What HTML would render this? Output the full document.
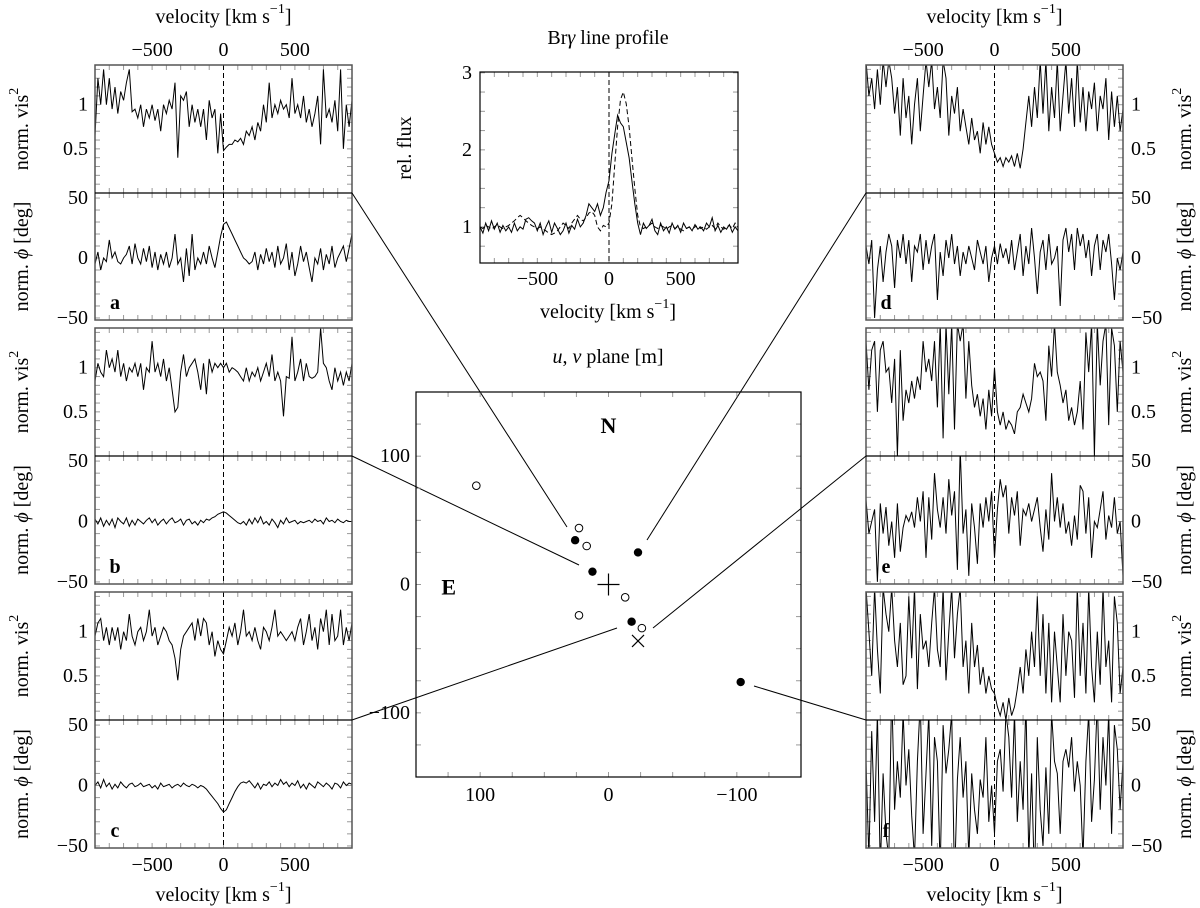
<!DOCTYPE html>
<html><head><meta charset="utf-8">
<style>
html,body{margin:0;padding:0;background:#fff;}
svg{display:block;}
svg text{font-family:"Liberation Serif","DejaVu Serif","Times New Roman",serif;fill:#000;}
</style></head>
<body>
<svg id="fig" width="1200" height="908" viewBox="0 0 1200 908" xmlns="http://www.w3.org/2000/svg"></svg>
<script>
// ---------- data ----------
const velocity = [-900,-880,-860,-840,-820,-800,-780,-760,-740,-720,-700,-680,-660,-640,-620,-600,-580,-560,-540,-520,-500,-480,-460,-440,-420,-400,-380,-360,-340,-320,-300,-280,-260,-240,-220,-200,-180,-160,-140,-120,-100,-80,-60,-40,-20,0,20,40,60,80,100,120,140,160,180,200,220,240,260,280,300,320,340,360,380,400,420,440,460,480,500,520,540,560,580,600,620,640,660,680,700,720,740,760,780,800,820,840,860,880,900];
const visA = [0.65,1.3,1.0,1.4,1.0,1.3,0.95,1.2,0.9,1.15,1.05,1.25,1.4,0.92,0.95,0.85,1.0,0.75,0.95,0.85,1.0,0.82,0.95,0.7,1.0,0.9,1.05,0.95,1.25,0.4,1.1,1.05,1.15,0.75,1.0,0.8,0.95,0.75,0.95,0.6,1.05,0.85,0.95,0.45,0.9,0.48,0.52,0.55,0.55,0.6,0.58,0.62,0.55,0.7,0.65,0.75,0.6,0.8,0.7,1.0,0.8,1.25,0.85,1.0,0.9,1.05,0.95,1.0,0.85,1.3,0.9,1.0,0.85,1.1,0.8,0.95,0.75,0.9,1.1,0.55,1.4,0.85,0.95,0.8,1.05,0.7,1.4,0.5,1.0,0.75,1.05];
const phiA = [-5,5,-10,0,-3,15,0,5,-3,-5,0,3,10,-5,12,0,-5,8,-3,10,-8,5,-10,3,-5,5,-8,0,20,-5,0,-20,8,-15,20,-10,0,-5,5,-5,10,0,-8,5,18,28,30,25,20,15,10,5,0,-2,-5,-3,5,-10,3,-5,8,-3,5,-8,10,-5,0,12,-10,5,-15,-5,10,-3,5,-8,-20,0,-5,8,-10,3,-5,10,-8,0,5,10,-3,8,20];
const visB = [0.85,1.05,0.95,0.9,1.2,1.0,1.1,0.95,1.2,0.9,1.05,0.85,1.0,0.95,1.05,0.9,1.05,0.75,1.0,0.95,1.3,0.95,1.05,0.9,1.1,0.85,1.0,0.75,0.5,0.55,0.95,1.15,0.9,1.0,1.05,1.1,0.95,0.75,1.05,0.7,1.1,0.95,1.05,1.0,1.05,1.0,1.05,0.95,1.0,0.98,0.95,0.9,0.85,1.0,0.85,0.95,0.9,1.0,0.85,0.95,1.05,0.9,1.15,0.85,0.95,0.85,0.45,0.9,0.88,1.35,0.85,0.95,1.1,0.85,1.05,0.9,0.88,0.9,0.95,1.45,1.05,1.0,0.85,0.75,1.0,0.85,0.95,0.8,0.95,0.85,1.05];
const phiB = [2,-2,3,-4,1,-3,2,-5,3,0,-2,3,-4,1,-3,2,0,-2,1,3,-1,2,-3,0,2,-2,1,3,-1,0,2,-3,1,2,-2,0,-3,1,-1,2,1,3,4,6,7,8,7,5,3,1,-1,-2,0,-3,2,-2,3,-1,4,-2,0,-3,2,-1,-5,1,-2,3,-1,0,1,-2,0,-1,0,1,-1,2,0,1,-2,3,0,1,-1,2,0,-1,1,0,0];
const visC = [0.95,1.1,1.15,0.9,1.05,0.85,1.05,0.9,1.05,0.8,1.0,0.9,1.2,0.95,0.85,1.0,1.05,0.9,1.0,1.25,0.95,1.05,0.85,0.95,1.05,1.0,0.9,0.85,0.7,0.45,0.8,0.95,1.0,1.05,1.1,0.9,1.15,0.95,1.15,1.1,0.85,1.0,0.72,0.9,0.8,0.75,0.9,1.05,0.95,1.1,0.85,1.0,1.25,0.95,1.0,0.9,1.05,0.9,0.8,1.05,1.0,0.9,1.05,1.25,0.95,1.0,0.95,0.9,0.95,1.0,0.9,1.05,1.15,0.85,1.0,1.2,0.9,1.05,0.8,1.15,1.0,1.25,0.85,1.2,0.9,0.95,1.25,0.85,1.05,0.9,1.1];
const phiC = [0,3,-2,5,-1,2,-3,1,-2,3,0,-2,1,2,-1,0,2,-1,0,1,-2,0,-3,2,-1,0,1,-2,0,1,-1,2,0,-1,1,0,-2,0,-1,-3,-6,-9,-12,-15,-19,-22,-20,-15,-10,-5,-1,2,3,2,4,1,-2,2,-3,1,0,3,-1,2,0,5,1,3,-1,2,0,4,-2,1,-3,2,0,-2,3,1,-1,2,0,-3,2,1,-2,3,0,2,1];
const visD = [1.5,1.1,1.3,0.95,1.4,1.0,1.5,1.2,1.5,1.3,0.9,1.2,0.65,1.3,0.85,1.1,0.55,1.0,1.3,0.7,1.1,1.5,1.2,1.5,0.95,1.2,0.85,1.5,1.3,0.65,1.1,0.9,1.2,0.7,0.95,0.75,0.55,0.85,0.6,0.7,0.45,0.8,0.55,0.75,0.55,0.45,0.35,0.4,0.3,0.4,0.35,0.42,0.3,0.45,0.28,0.5,0.8,1.1,0.75,1.2,0.85,1.5,0.9,1.5,0.7,1.2,0.85,1.5,0.7,1.1,1.5,0.9,1.3,0.75,1.5,0.8,1.2,0.7,1.15,0.95,1.25,0.7,1.1,0.95,1.3,0.6,1.15,0.75,1.1,0.7,0.95];
const phiD = [10,-5,15,-50,-10,10,-20,5,20,10,-25,15,0,20,-5,15,-20,10,5,20,-10,15,-5,10,20,-35,5,-15,15,0,20,-5,10,-15,5,-5,10,0,-10,15,5,-5,10,-20,0,10,-5,12,0,8,-5,15,-10,5,20,-15,10,-5,25,0,-30,5,15,-10,20,-5,0,10,-40,15,25,5,20,-10,25,10,20,0,15,-15,10,20,-10,15,5,20,-5,-35,0,-10,5];
const visE = [1.3,0.75,1.2,1.3,0.5,1.2,1.3,0.95,1.0,0.6,1.1,0.0,1.2,0.4,0.75,0.6,0.85,0.65,0.9,0.75,1.3,0.95,1.1,0.85,1.3,0.55,1.5,0.2,1.5,0.7,1.5,0.3,1.5,1.3,1.5,0.65,1.3,0.8,0.55,0.7,0.45,0.65,0.3,0.75,0.45,1.0,0.5,0.35,0.5,0.3,0.4,0.35,0.25,0.5,0.55,0.7,0.6,0.5,0.65,1.05,0.9,0.95,0.85,0.4,1.25,0.9,1.5,0.95,0.8,0.6,0.75,0.4,0.55,0.35,0.5,0.85,0.3,1.4,0.95,1.5,0.0,1.5,0.8,1.3,1.5,0.35,1.45,1.25,0.5,1.3,0.95];
const phiE = [18,-10,0,10,-50,15,-10,12,-20,0,-30,15,-25,-5,5,0,8,-5,20,0,25,-30,20,-15,40,10,-5,20,-10,35,5,25,-40,60,-10,10,-45,15,-5,-35,15,-5,20,0,25,-30,10,35,20,30,-10,20,5,25,-20,10,5,15,0,10,20,-5,-25,10,-15,40,0,20,-5,15,-10,0,-20,5,-15,30,25,-10,20,-30,0,-5,10,25,-15,5,-5,20,-10,0,-45];
const visF = [1.5,1.0,0.5,1.5,0.8,0.3,1.5,1.2,1.0,1.5,0.9,0.6,1.1,0.4,0.5,1.4,0.7,1.5,0.35,1.2,0.8,0.9,0.6,1.1,1.5,0.8,0.6,1.5,0.45,1.0,1.5,0.7,1.2,1.5,0.6,0.9,0.3,1.1,0.6,0.85,0.4,0.6,0.3,0.5,0.35,0.3,0.15,0.05,0.2,0.0,0.25,0.05,0.15,0.35,0.6,0.3,0.8,0.5,1.0,0.6,1.4,0.5,1.2,0.3,1.1,0.2,1.0,0.6,0.2,1.2,0.5,1.0,0.9,0.25,1.5,0.5,1.1,0.3,1.5,0.6,0.2,1.0,0.4,1.5,0.6,0.9,0.2,1.4,1.1,0.3,0.6];
const phiF = [20,-60,45,-30,60,-70,10,-40,-60,80,-20,20,-10,60,0,30,-25,-60,20,70,-40,10,60,-50,40,20,-70,50,10,30,60,-80,5,40,-10,20,-60,10,-20,-40,5,-10,40,-30,0,-40,20,30,-5,60,40,-10,60,-30,20,-20,70,-60,10,-80,40,-20,-50,15,-40,60,20,10,-40,20,30,15,40,-5,20,0,-60,20,60,-30,5,70,-20,40,0,60,-40,50,30,-20,20];
const fluxObs = [1.0,0.92,1.05,0.95,1.08,0.97,1.05,0.93,1.02,0.95,1.0,0.93,1.05,0.95,1.0,0.97,1.1,1.12,1.08,1.05,0.95,1.05,0.9,1.0,1.08,0.93,1.05,0.98,0.9,0.95,1.05,0.92,1.02,0.97,1.1,1.0,1.05,1.15,1.3,1.25,1.2,1.3,1.15,1.25,1.45,1.6,1.95,2.2,2.45,2.35,2.3,2.1,1.9,1.6,1.3,1.05,0.9,1.05,0.98,1.02,1.1,0.95,0.9,1.05,0.95,1.0,0.92,1.05,0.97,1.02,0.93,1.05,0.98,1.0,0.95,1.03,0.97,1.0,0.95,1.05,1.0,1.12,0.95,1.02,0.93,1.0,0.97,1.03,0.93,1.0,0.95];
const fluxRef = [1.0,0.98,1.02,1.0,0.97,1.0,1.03,1.0,0.98,1.0,1.02,1.05,1.08,1.12,1.15,1.12,1.08,1.05,1.02,1.0,0.98,1.0,0.97,0.95,0.92,0.9,0.92,0.95,1.0,1.05,1.02,0.98,1.05,1.1,1.15,1.1,1.08,1.12,1.18,1.2,1.15,1.0,0.95,1.02,1.0,1.05,1.3,1.8,2.3,2.65,2.75,2.6,2.3,1.9,1.5,1.15,1.0,0.98,1.0,1.02,1.05,1.0,0.98,1.02,1.0,0.97,1.0,1.02,0.98,1.0,0.97,0.95,0.98,1.0,0.97,1.0,1.02,0.98,1.0,0.97,1.0,1.02,0.98,1.05,1.0,0.97,1.0,1.02,0.98,1.05,1.0];
const uvOpenU = [103,23,17,-13,23,-26];
const uvOpenV = [77,44,30,-10,-24,-34];
const uvFilledU = [26,12.5,-23,-18,-103];
const uvFilledV = [34.5,10,25,-29,-76];
const velTicks = [-500,0,500];
const visTicks = [0.5,1];
const phiTicks = [-50,0,50];
const fluxTicks = [1,2,3];
const uvTicks = [-100,0,100];

// ---------- helpers ----------
const NS = 'http://www.w3.org/2000/svg';
const svg = document.getElementById('fig');
const FONT = '"Liberation Serif", "DejaVu Serif", serif';
const FS = 20;
function mk(tag, attrs, parent) {
  const e = document.createElementNS(NS, tag);
  for (const k in attrs) e.setAttribute(k, attrs[k]);
  (parent || svg).appendChild(e);
  return e;
}
function lin(d0, d1, p0, p1) { return v => p0 + (v - d0) * (p1 - p0) / (d1 - d0); }
let clipN = 0;
function clipRect(x0, y0, x1, y1) {
  const id = 'c' + (clipN++);
  const cp = mk('clipPath', {id: id});
  mk('rect', {x: x0, y: y0, width: x1 - x0, height: y1 - y0}, cp);
  return 'url(#' + id + ')';
}
function txt(x, y, s, size, anchor, extra) {
  const t = mk('text', Object.assign({x: x, y: y, 'font-size': size, 'font-family': FONT, 'text-anchor': anchor || 'middle', 'dominant-baseline': 'central'}, extra || {}));
  t.textContent = s;
  return t;
}
function polyline(xs, ys, sx, sy, clip, dash) {
  let d = '';
  for (let i = 0; i < xs.length; i++) d += (i ? 'L' : 'M') + sx(xs[i]).toFixed(1) + ',' + sy(ys[i]).toFixed(1);
  const a = {d: d, fill: 'none', stroke: '#000', 'stroke-width': 1, 'clip-path': clip};
  if (dash) a['stroke-dasharray'] = dash;
  return mk('path', a);
}
const VEL_TITLE = 'velocity [km s<tspan dy="-8" font-size="14">\u22121</tspan><tspan dy="8">]</tspan>';

const VX0L = 95, VX1L = 352, VX0R = 866, VX1R = 1123;
const rowTop = [65, 328, 592], rowMid = [193, 456, 720], rowBot = [320, 584, 848];
const visSeries = [[visA, visD], [visB, visE], [visC, visF]];
const phiSeries = [[phiA, phiD], [phiB, phiE], [phiC, phiF]];
const letters = [['a', 'd'], ['b', 'e'], ['c', 'f']];

function xTicks(sx, y0, y1) {
  for (let v = -900; v <= 900; v += 100) {
    const x = sx(v);
    mk('line', {x1: x, y1: y0, x2: x, y2: y0 + 5, stroke: '#999', 'stroke-width': 1});
    mk('line', {x1: x, y1: y1, x2: x, y2: y1 - 5, stroke: '#999', 'stroke-width': 1});
  }
}
function yTicks(sy, lo, hi, step, x0, x1) {
  for (let v = lo; v <= hi + 1e-9; v += step) {
    const y = sy(v);
    mk('line', {x1: x0, y1: y, x2: x0 + 5, y2: y, stroke: '#999', 'stroke-width': 1});
    mk('line', {x1: x1, y1: y, x2: x1 - 5, y2: y, stroke: '#999', 'stroke-width': 1});
  }
}

for (let side = 0; side < 2; side++) {
  const x0 = side ? VX0R : VX0L, x1 = side ? VX1R : VX1L;
  const sx = lin(-900, 900, x0, x1);
  for (let r = 0; r < 3; r++) {
    const t = rowTop[r], m = rowMid[r], b = rowBot[r];
    const syV = lin(0, 1.45, m, t);
    const syP = lin(-51.7, 54.2, b, m);
    xTicks(sx, t, m); xTicks(sx, m, b);
    yTicks(syV, 0.1, 1.4, 0.1, x0, x1);
    yTicks(syP, -50, 50, 10, x0, x1);
    const z = mk('line', {x1: sx(0), y1: t, x2: sx(0), y2: b, stroke: '#000', 'stroke-width': 1, 'stroke-dasharray': '5,3'});
    
    
    const pv = polyline(velocity, visSeries[r][side], sx, syV, clipRect(x0, t, x1, m));
    
    
    const pp = polyline(velocity, phiSeries[r][side], sx, syP, clipRect(x0, m, x1, b));
    
    
    const fr = mk('rect', {x: x0, y: t, width: x1 - x0, height: b - t, fill: 'none', stroke: '#555', 'stroke-width': 1.5});
    
    
    mk('line', {x1: x0, y1: m, x2: x1, y2: m, stroke: '#000', 'stroke-width': 1.2});
    const lx = side ? x1 + 8 : x0 - 7, anc = side ? 'start' : 'end';
    visTicks.forEach(v => { const e = txt(lx, syV(v), String(v), FS, anc);   });
    phiTicks.forEach(v => { const e = txt(lx, syP(v), v < 0 ? '\u2212' + (-v) : String(v), FS, anc);   });
    const ax = side ? 1185 : 22;
    const yv = (t + m) / 2, yp = (m + b) / 2;
    const tv = txt(ax, yv, '', FS, 'middle', {transform: 'rotate(-90 ' + ax + ' ' + yv + ')'});
    tv.innerHTML = 'norm. vis<tspan dy="-8" font-size="14">2</tspan>';
    
    
    const tp = txt(ax, yp, '', FS, 'middle', {transform: 'rotate(-90 ' + ax + ' ' + yp + ')'});
    tp.innerHTML = 'norm. <tspan font-style="italic">\u03d5</tspan> [deg]';
    
    
    const lt = txt(x0 + 20, b - 17, letters[r][side], FS, 'middle', {'font-weight': 'bold'});
    
    
  }
  velTicks.forEach(v => {
    const s = v < 0 ? '\u2212' + (-v) : String(v);
    const a = txt(sx(v), 50, s, FS);  
    const c = txt(sx(v), 865, s, FS);  
  });
  const cx = (x0 + x1) / 2;
  const tt = txt(cx, 17, '', FS); tt.innerHTML = VEL_TITLE;
   
  const tb = txt(cx, 895, '', FS); tb.innerHTML = VEL_TITLE;
   
}

// ---------- Br gamma profile ----------
(function () {
  const x0 = 480, x1 = 738, y0 = 72, y1 = 263;
  const sx = lin(-900, 900, x0, x1), sy = lin(0.532, 3.01, y1, y0);
  for (let v = -900; v <= 900; v += 100) {
    mk('line', {x1: sx(v), y1: y1, x2: sx(v), y2: y1 - 5, stroke: '#999'});
    mk('line', {x1: sx(v), y1: y0, x2: sx(v), y2: y0 + 5, stroke: '#999'});
  }
  for (let v = 0.75; v <= 3.0; v += 0.25) {
    mk('line', {x1: x0, y1: sy(v), x2: x0 + 5, y2: sy(v), stroke: '#999'});
    mk('line', {x1: x1, y1: sy(v), x2: x1 - 5, y2: sy(v), stroke: '#999'});
  }
  const clip = clipRect(x0, y0, x1, y1);
  const z = mk('line', {x1: sx(0), y1: y0, x2: sx(0), y2: y1, stroke: '#000', 'stroke-dasharray': '5,3'});
   
  const p1 = polyline(velocity, fluxRef, sx, sy, clip, '5,3');
   
  const p2 = polyline(velocity, fluxObs, sx, sy, clip);
   
  mk('rect', {x: x0, y: y0, width: x1 - x0, height: y1 - y0, fill: 'none', stroke: '#000', 'stroke-width': 1.2});
  fluxTicks.forEach(v => { const e = txt(x0 - 8, sy(v), String(v), FS, 'end');   });
  velTicks.forEach(v => { const e = txt(sx(v), 279, v < 0 ? '\u2212' + (-v) : String(v), FS);   });
  const tl = txt(608, 312, '', FS); tl.innerHTML = VEL_TITLE;
   
  const yl = txt(405, 148, 'rel. flux', FS, 'middle', {transform: 'rotate(-90 405 148)'});
   
  const ti = txt(608, 38, '', FS); ti.innerHTML = 'Br<tspan font-style="italic">\u03b3</tspan> line profile';
   
})();

// ---------- uv plane ----------
(function () {
  const x0 = 416, x1 = 801, y0 = 392, y1 = 777;
  const sx = lin(150, -150, x0, x1), sy = lin(-150, 150, y1, y0);
  const conns = [[352, 193, 567, 527], [352, 456, 579, 565], [352, 720, 617, 628], [866, 193, 647, 540], [866, 456, 653, 628], [866, 720, 754, 686]];
  conns.forEach((c, i) => {
    const l = mk('line', {x1: c[0], y1: c[1], x2: c[2], y2: c[3], stroke: '#000', 'stroke-width': 1});
    
    
  });
  for (let v = -125; v <= 125; v += 25) {
    mk('line', {x1: sx(v), y1: y1, x2: sx(v), y2: y1 - 5, stroke: '#999'});
    mk('line', {x1: sx(v), y1: y0, x2: sx(v), y2: y0 + 5, stroke: '#999'});
    mk('line', {x1: x0, y1: sy(v), x2: x0 + 5, y2: sy(v), stroke: '#999'});
    mk('line', {x1: x1, y1: sy(v), x2: x1 - 5, y2: sy(v), stroke: '#999'});
  }
  mk('rect', {x: x0, y: y0, width: x1 - x0, height: y1 - y0, fill: 'none', stroke: '#000', 'stroke-width': 1.2});
  uvTicks.forEach(v => {
    const s = v < 0 ? '\u2212' + (-v) : String(v);
    const a = txt(sx(v), 795, s, FS);  
    const b = txt(x0 - 6, sy(v), s, FS, 'end');  
  });
  const cx = sx(0), cy = sy(0);
  const plus = mk('path', {d: `M${cx - 11},${cy}H${cx + 11}M${cx},${cy - 11}V${cy + 11}`, stroke: '#000', 'stroke-width': 1.2, fill: 'none'});
   
  const xx = sx(-23), xy = sy(-44);
  const cross = mk('path', {d: `M${xx - 6},${xy - 6}L${xx + 6},${xy + 6}M${xx - 6},${xy + 6}L${xx + 6},${xy - 6}`, stroke: '#000', 'stroke-width': 1.2, fill: 'none'});
   
  for (let i = 0; i < uvOpenU.length; i++) {
    const c = mk('circle', {cx: sx(uvOpenU[i]), cy: sy(uvOpenV[i]), r: 3.8, fill: '#fff', stroke: '#000', 'stroke-width': 1});
    
    
  }
  for (let i = 0; i < uvFilledU.length; i++) {
    const c = mk('circle', {cx: sx(uvFilledU[i]), cy: sy(uvFilledV[i]), r: 4.2, fill: '#000'});
    
    
  }
  const n = txt(sx(0), sy(124), 'N', 22, 'middle', {'font-weight': 'bold'});
   
  const e = txt(sx(124.5), sy(-2), 'E', 22, 'middle', {'font-weight': 'bold'});
   
  const t = txt(608, 357, '', FS);
  t.innerHTML = '<tspan font-style="italic">u</tspan>, <tspan font-style="italic">v</tspan> plane [m]';
   
})();
</script>
</body></html>
